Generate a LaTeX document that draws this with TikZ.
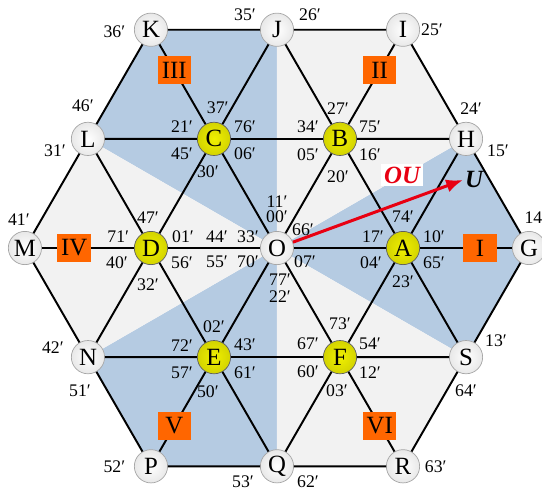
\documentclass[tikz,border=0pt]{standalone}
\usepackage{fontspec}
\setmainfont{Liberation Serif}
\definecolor{svblue}{RGB}{181, 203, 226}
\definecolor{svgray}{RGB}{242, 242, 242}
\definecolor{svorange}{RGB}{255, 102, 0}
\definecolor{svyellow}{RGB}{240, 240, 0}
\definecolor{svred}{RGB}{232, 0, 18}
\usetikzlibrary{arrows.meta, positioning, backgrounds, calc}

\begin{document}
\begin{tikzpicture}[x=2.5cm, y=2.5cm,
    vtx/.style={circle, draw=gray!70, thin, inner color=white, outer color=gray!18,
                minimum size=0.66cm, inner sep=0pt, font=\fontsize{14}{14}\selectfont},
    zvec/.style={vtx, draw=gray!75!black, inner color=svyellow, outer color=svyellow!88!black},
    sect/.style={fill=svorange, minimum width=0.66cm, minimum height=0.56cm,
                 inner sep=1pt, font=\fontsize{14}{14}\selectfont},
    lbl/.style={inner sep=0pt, font=\fontsize{10}{10}\selectfont},
    grid/.style={line width=1.1pt}]
    \useasboundingbox (-2.198,-1.929) rectangle (2.103,1.968);

    % zero vector and inner hexagon
    \node[vtx] (O) at (0,0) {O};
    \node[zvec] (A) at (0:1) {A};
    \node[zvec] (B) at (60:1) {B};
    \node[zvec] (C) at (120:1) {C};
    \node[zvec] (D) at (180:1) {D};
    \node[zvec] (E) at (240:1) {E};
    \node[zvec] (F) at (300:1) {F};
    % outer hexagon
    \node[vtx] (G) at (0:2) {G};
    \node[vtx] (H) at (30:1.732) {H};
    \node[vtx] (I) at (60:2) {I};
    \node[vtx] (J) at (90:1.732) {J};
    \node[vtx] (K) at (120:2) {K};
    \node[vtx] (L) at (150:1.732) {L};
    \node[vtx] (M) at (180:2) {M};
    \node[vtx] (N) at (210:1.732) {N};
    \node[vtx] (P) at (240:2) {P};
    \node[vtx] (Q) at (270:1.732) {Q};
    \node[vtx] (R) at (300:2) {R};
    \node[vtx] (S) at (330:1.732) {S};

    \begin{scope}[on background layer]
      \fill[svblue] (O.center) -- (L.center) -- (K.center) -- (J.center) -- cycle;
      \fill[svblue] (O.center) -- (H.center) -- (G.center) -- (S.center) -- cycle;
      \fill[svblue] (O.center) -- (N.center) -- (P.center) -- (Q.center) -- cycle;
      \fill[svgray] (O.center) -- (J.center) -- (I.center) -- (H.center) -- cycle;
      \fill[svgray] (O.center) -- (L.center) -- (M.center) -- (N.center) -- cycle;
      \fill[svgray] (O.center) -- (S.center) -- (R.center) -- (Q.center) -- cycle;
    \end{scope}

    \foreach \a/\b in {K/J, J/I, L/C, C/B, B/H, M/D, D/O, O/A, A/G, N/E, E/F, F/S, P/Q, Q/R,
                       M/L, L/K, N/D, D/C, C/J, P/E, E/O, O/B, B/I, Q/F, F/A, A/H, R/S, S/G,
                       G/H, H/I, S/A, A/B, B/J, R/F, F/O, O/C, C/K, Q/E, E/D, D/L, P/N, N/M}
      \draw[grid] (\a) -- (\b);

    % sector numbers
    \node[sect] (secI) at ($(A)!0.61!(G)$) {I};
    \node[sect] (secII) at ($(B)!0.63!(I)$) {II};
    \node[sect] (secIII) at ($(C)!0.63!(K)$) {III};
    \node[sect] (secIV) at ($(D)!0.61!(M)$) {IV};
    \node[sect] (secV) at ($(E)!0.63!(P)$) {V};
    \node[sect] (secVI) at ($(F)!0.63!(R)$) {VI};

    % switching states
    \foreach \n/\dx/\dy/\t [count=\i] in {
        O/0/0.365/11, O/0/0.246/00, O/0.206/0.143/66, O/-0.476/0.087/44, O/-0.23/0.087/33,
        O/-0.476/-0.111/55, O/-0.23/-0.111/70, O/0.222/-0.111/07, O/0.024/-0.254/77, O/0.024/-0.389/22,
        A/0/0.246/74, A/-0.238/0.087/17, A/0.246/0.087/10, A/-0.254/-0.119/04, A/0.246/-0.119/65, A/0/-0.27/23,
        B/-0.016/0.238/27, B/-0.254/0.095/34, B/0.238/0.095/75, B/-0.254/-0.127/05, B/0.238/-0.127/16, B/-0.016/-0.3/20,
        C/0.03/0.25/37, C/-0.254/0.095/21, C/0.246/0.095/76, C/-0.254/-0.119/45, C/0.246/-0.119/06, C/-0.048/-0.262/30,
        D/-0.024/0.238/47, D/-0.26/0.087/71, D/0.254/0.087/01, D/-0.27/-0.119/40, D/0.246/-0.119/56, D/-0.024/-0.29/32,
        E/0/0.238/02, E/-0.254/0.095/72, E/0.246/0.095/43, E/-0.254/-0.127/57, E/0.246/-0.127/61, E/-0.048/-0.278/50,
        F/0/0.262/73, F/-0.254/0.103/67, F/0.238/0.103/54, F/-0.254/-0.119/60, F/0.238/-0.119/12, F/-0.024/-0.27/03,
        K/-0.29/-0.016/36, J/-0.254/0.119/35, J/0.262/0.119/26, I/0.23/0/25,
        L/-0.04/0.26/46, L/-0.262/-0.09/31, H/0.04/0.24/24, H/0.254/-0.095/15,
        M/-0.048/0.222/41, G/0.05/0.24/14, N/-0.278/0.079/42, N/-0.063/-0.27/51,
        S/0.238/0.127/13, S/0/-0.27/64, P/-0.29/0/52, Q/-0.27/-0.119/53, Q/0.246/-0.119/62, R/0.26/0/63}
      \node[lbl] (st\i) at ($(\n)+(\dx,\dy)$) {\t′};

    % reference vector
    \coordinate (tip) at (1.476,0.54);
    \draw[svred, line width=1.7pt, -{Latex[length=9.5pt,width=7.5pt]}] (O) -- (tip);
    \node[right=0.5pt of tip, inner sep=0.5pt,
          font=\fontsize{14}{14}\selectfont\bfseries\itshape] (U) {U};
    \node[fill=white, inner sep=1.5pt, text=svred,
          font=\fontsize{14}{14}\selectfont\bfseries\itshape] (OUlbl) at (0.992,0.579) {OU};
\end{tikzpicture}
\end{document}
